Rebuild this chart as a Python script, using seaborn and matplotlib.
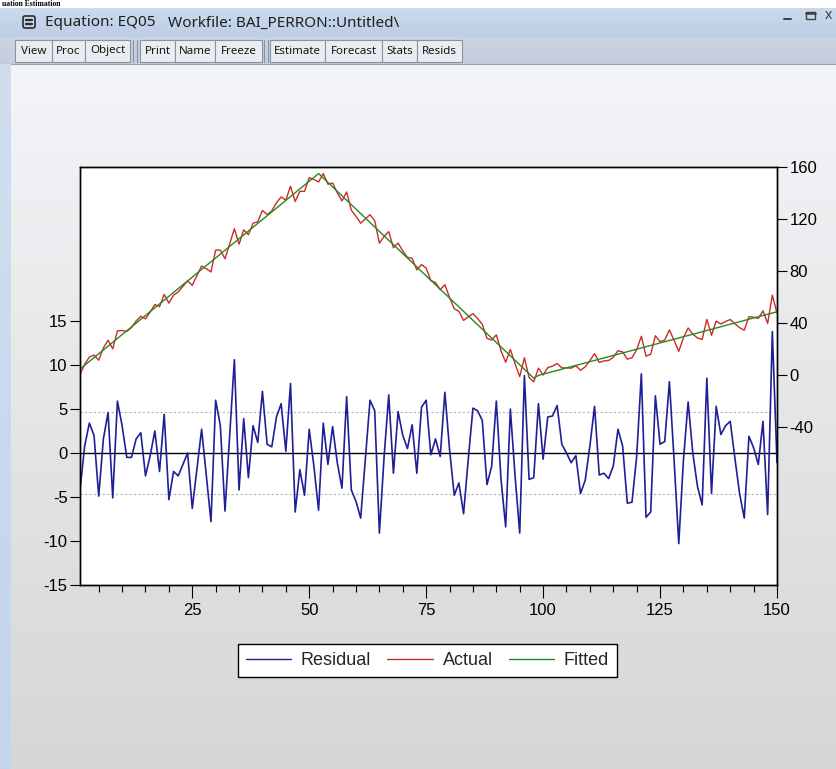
import numpy as np
import pandas as pd
import matplotlib
matplotlib.use("Agg")
import matplotlib.pyplot as plt
import seaborn as sns
from matplotlib.patches import Rectangle, FancyBboxPatch
from matplotlib.lines import Line2D

# ---------------- data ----------------
obs = list(range(1, 151))

residual = [
    -4.2, 0.8, 3.4, 2.0, -4.9, 1.6, 4.6, -5.1, 5.9, 3.1,
    -0.5, -0.5, 1.6, 2.3, -2.6, -0.3, 2.5, -2.1, 4.4, -5.3,
    -2.1, -2.6, -1.3, 0.0, -6.3, -1.8, 2.7, -2.5, -7.8, 6.0,
    3.1, -6.6, 2.0, 10.6, -4.2, 3.9, -2.8, 3.1, 1.2, 7.0,
    1.0, 0.7, 4.1, 5.6, 0.2, 7.9, -6.7, -1.9, -4.8, 2.7,
    -1.5, -6.5, 3.4, -1.3, 3.0, -1.1, -4.0, 6.4, -4.2, -5.5,
    -7.4, -0.7, 6.0, 4.8, -9.1, -0.5, 6.6, -2.3, 4.7, 2.0,
    0.5, 3.2, -2.3, 5.2, 6.0, -0.2, 1.6, -0.4, 6.9, 0.4,
    -4.8, -3.4, -6.9, -0.7, 5.1, 4.8, 3.7, -3.6, -1.5, 5.9,
    -3.0, -8.4, 5.0, -2.6, -9.1, 8.8, -3.0, -2.8, 5.6, -0.7,
    4.1, 4.2, 5.4, 1.0, 0.0, -1.1, -0.3, -4.6, -3.1, 0.8,
    5.3, -2.5, -2.3, -2.9, -1.5, 2.7, 0.8, -5.7, -5.6, -0.4,
    9.0, -7.3, -6.7, 6.5, 1.0, 1.3, 8.1, -0.8, -10.3, -0.8,
    5.8, 0.0, -3.8, -5.9, 8.5, -4.6, 5.3, 2.1, 3.1, 3.6,
    -0.6, -4.6, -7.4, 1.9, 0.6, -1.3, 3.6, -7.0, 13.8, -1.1,
]

fitted = [
    4.5, 7.5, 10.4, 13.4, 16.3, 19.3, 22.2, 25.2, 28.1, 31.1,
    34.0, 37.0, 39.9, 42.9, 45.8, 48.8, 51.7, 54.7, 57.6, 60.6,
    63.5, 66.5, 69.4, 72.4, 75.3, 78.3, 81.2, 84.2, 87.1, 90.1,
    93.0, 96.0, 98.9, 101.9, 104.8, 107.8, 110.7, 113.7, 116.6, 119.6,
    122.5, 125.5, 128.4, 131.4, 134.3, 137.3, 140.2, 143.2, 146.1, 149.1,
    152.0, 155.0, 151.5, 148.1, 144.7, 141.3, 137.9, 134.4, 131.0, 127.6,
    124.2, 120.8, 117.3, 113.9, 110.5, 107.1, 103.7, 100.2, 96.8, 93.4,
    90.0, 86.6, 83.1, 79.7, 76.3, 72.9, 69.5, 66.0, 62.6, 59.2,
    55.8, 52.4, 48.9, 45.5, 42.1, 38.7, 35.3, 31.8, 28.4, 25.0,
    21.6, 18.2, 14.7, 11.3, 7.9, 4.5, 1.1, -2.4, -0.3, 0.7,
    1.6, 2.6, 3.5, 4.5, 5.5, 6.4, 7.4, 8.3, 9.3, 10.3,
    11.2, 12.2, 13.1, 14.1, 15.1, 16.0, 17.0, 17.9, 18.9, 19.9,
    20.8, 21.8, 22.7, 23.7, 24.7, 25.6, 26.6, 27.5, 28.5, 29.5,
    30.4, 31.4, 32.3, 33.3, 34.3, 35.2, 36.2, 37.1, 38.1, 39.1,
    40.0, 41.0, 41.9, 42.9, 43.9, 44.8, 45.8, 46.7, 47.7, 48.7,
]

actual = [
    0.3, 8.3, 13.8, 15.4, 11.4, 20.9, 26.8, 20.1, 34.0, 34.2,
    33.5, 36.5, 41.5, 45.2, 43.2, 48.5, 54.2, 52.6, 62.0, 55.3,
    61.4, 63.9, 68.1, 72.4, 69.0, 76.5, 83.9, 81.7, 79.3, 96.1,
    96.1, 89.4, 100.9, 112.5, 100.6, 111.7, 107.9, 116.8, 117.8, 126.6,
    123.5, 126.2, 132.5, 137.0, 134.5, 145.2, 133.5, 141.3, 141.3, 151.8,
    150.5, 148.5, 154.9, 146.8, 147.7, 140.2, 133.9, 140.8, 126.8, 122.1,
    116.8, 120.1, 123.3, 118.7, 101.4, 106.6, 110.3, 97.9, 101.5, 95.4,
    90.5, 89.8, 80.8, 84.9, 82.3, 72.7, 71.1, 65.6, 69.5, 59.6,
    51.0, 49.0, 42.0, 44.8, 47.2, 43.5, 39.0, 28.2, 26.9, 30.9,
    18.6, 9.8, 19.7, 8.7, -1.2, 13.3, -1.9, -5.2, 5.3, 0.0,
    5.7, 6.8, 8.9, 5.5, 5.5, 5.3, 7.1, 3.7, 6.2, 11.1,
    16.5, 9.7, 10.8, 11.2, 13.6, 18.7, 17.8, 12.2, 13.3, 19.5,
    29.8, 14.5, 16.0, 30.2, 25.7, 26.9, 34.7, 26.7, 18.2, 28.7,
    36.2, 31.4, 28.5, 27.4, 42.8, 30.6, 41.5, 39.2, 41.2, 42.7,
    39.4, 36.4, 34.5, 44.8, 44.5, 43.5, 49.4, 39.7, 61.5, 47.6,
]

sigma_band = 4.7
left_ticks = [-15, -10, -5, 0, 5, 10, 15]
right_ticks = [-40, 0, 40, 80, 120, 160]
x_ticks = [25, 50, 75, 100, 125, 150]
series_names = ["Residual", "Actual", "Fitted"]
toolbar_labels = ["View", "Proc", "Object", "Print", "Name", "Freeze",
                  "Estimate", "Forecast", "Stats", "Resids"]
title_part1 = "Equation: EQ05"
title_part2 = "Workfile: BAI_PERRON::Untitled\\"
clipped_heading = "uation Estimation"

# ---------------- style ----------------
sns.set_theme(style="white")
plt.rcParams['font.family'] = ['Liberation Sans', 'DejaVu Sans']

W, H = 837, 769
fig = plt.figure(figsize=(W / 100, H / 100), dpi=100)

# background / window chrome
bg = fig.add_axes([0, 0, 1, 1])
bg.axis('off')

def vgrad(c_top, c_bot, y0, y1, x0=0, x1=W, z=0):
    g = np.linspace(0, 1, 256)[:, None, None]
    t = np.array(c_top) / 255.0
    b = np.array(c_bot) / 255.0
    img = t + (b - t) * g
    bg.imshow(img, extent=[x0, x1, y1, y0], aspect='auto', zorder=z,
              interpolation='bilinear')

bg.add_patch(Rectangle((0, 0), W, 8, facecolor='white', edgecolor='none', zorder=0))
bg.text(2, 4.2, clipped_heading, fontsize=5.5, fontweight='bold',
        family=['Liberation Serif', 'DejaVu Serif'], color='black',
        va='center', ha='left', zorder=1)
vgrad((203, 218, 238), (188, 206, 229), 8, 37, z=2)
vgrad((203, 212, 225), (196, 206, 220), 37, 64, z=2)
bg.plot([0, W], [64, 64], color='#9aa4b0', lw=0.8, zorder=3)
vgrad((243, 245, 248), (214, 214, 214), 64.5, H, z=2)
vgrad((208, 222, 240), (196, 212, 234), 64.5, H, x0=0, x1=11, z=3)

# title icon
bg.add_patch(FancyBboxPatch((23, 16), 12, 12, boxstyle="round,pad=0,rounding_size=2",
                            facecolor='none', edgecolor='#2b2b2b', lw=1.2, zorder=4))
bg.plot([26, 32], [20, 20], color='#2b2b2b', lw=1.6, zorder=4)
bg.plot([26, 32], [24, 24], color='#2b2b2b', lw=1.6, zorder=4)
title_font = ['Noto Sans', 'DejaVu Sans']
bg.text(45, 23, title_part1, fontsize=11, family=title_font, color='#1e1e1e',
        va='center', ha='left', zorder=4)
bg.text(168, 23, title_part2, fontsize=11, family=title_font, color='#1e1e1e',
        va='center', ha='left', zorder=4)
# window controls
bg.plot([784, 791], [19, 19], color='#404040', lw=1.4, zorder=4)
bg.add_patch(Rectangle((806, 12), 9, 7, facecolor='none', edgecolor='#404040', lw=1.0, zorder=4))
bg.plot([806, 815], [12.5, 12.5], color='#404040', lw=1.8, zorder=4)
bg.text(828, 15.5, "x", fontsize=10, family=title_font, color='#404040',
        va='center', ha='center', zorder=4)

# toolbar buttons (edges; groups separated by double bars)
btn_edges = [15, 52, 85, 130, None, 140, 175, 215, 262, None, 270, 325, 382, 417, 462]
groups = []
cur = []
for e in btn_edges:
    if e is None:
        groups.append(cur)
        cur = []
    else:
        cur.append(e)
groups.append(cur)
li = 0
for g in groups:
    for a, b in zip(g[:-1], g[1:]):
        bg.add_patch(Rectangle((a, 40), b - a, 22, facecolor='#e9edf2',
                               edgecolor='#8793a1', lw=0.8, zorder=4))
        bg.text((a + b) / 2, 51, toolbar_labels[li], fontsize=8.3, family=title_font,
                color='#141414', va='center', ha='center', zorder=5)
        li += 1
for sx in (133, 264):
    bg.plot([sx, sx], [40, 62], color='#8793a1', lw=0.8, zorder=4)
    bg.plot([sx + 4, sx + 4], [40, 62], color='#8793a1', lw=0.8, zorder=4)

bg.set_xlim(0, W)
bg.set_ylim(H, 0)

# ---------------- chart ----------------
c_res = '#1f1f96'
c_act = '#cc2a2a'
c_fit = '#238a23'

df = pd.DataFrame({'obs': obs, 'Residual': residual, 'Actual': actual, 'Fitted': fitted})

ax = fig.add_axes([80 / W, 1 - 585 / H, (777 - 80) / W, (585 - 167) / H])
ax.set_facecolor('white')
ax.axhline(sigma_band, color='#b4b4b4', lw=0.8, ls=(0, (2, 2)), zorder=1)
ax.axhline(-sigma_band, color='#b4b4b4', lw=0.8, ls=(0, (2, 2)), zorder=1)
ax.axhline(0, color='black', lw=1.0, zorder=1)
sns.lineplot(data=df, x='obs', y='Residual', ax=ax, color=c_res, lw=1.2,
             legend=False, zorder=2)
ax2 = ax.twinx()
sns.lineplot(data=df, x='obs', y='Actual', ax=ax2, color=c_act, lw=1.0, legend=False)
sns.lineplot(data=df, x='obs', y='Fitted', ax=ax2, color=c_fit, lw=1.0, legend=False)

ax.set_xlim(1, 150)
ax.set_ylim(-15, 32.5)
ax2.set_ylim(-161.5, 160)
ax.set_xticks(x_ticks)
ax.set_xticks([v for v in range(5, 151, 5) if v not in x_ticks], minor=True)
ax.set_yticks(left_ticks)
ax2.set_yticks(right_ticks)
ax.set_xticklabels([str(v) for v in x_ticks])
ax.set_yticklabels([str(v) for v in left_ticks])
ax2.set_yticklabels([str(v) for v in right_ticks])
for a in (ax, ax2):
    a.set_xlabel('')
    a.set_ylabel('')
    for s in a.spines.values():
        s.set_visible(True)
        s.set_color('black')
        s.set_linewidth(1.0)

ax.tick_params(axis='x', which='major', bottom=True, direction='out', length=9,
               width=0.8, color='black', pad=4, labelsize=12, labelcolor='black')
ax.tick_params(axis='x', which='minor', bottom=True, direction='out', length=5,
               width=0.8, color='black')
ax.tick_params(axis='y', left=True, right=False, direction='out', length=7,
               width=0.8, color='black', pad=2, labelsize=12, labelcolor='black')
ax2.tick_params(axis='y', right=True, left=False, direction='out', length=7,
                width=0.8, color='black', pad=2, labelsize=12, labelcolor='black')

handles = [Line2D([], [], color=c, lw=1.0) for c in (c_res, c_act, c_fit)]
leg = fig.legend(handles, series_names, loc='center',
                 bbox_to_anchor=(427.5 / W, 1 - 660.5 / H), ncol=3,
                 frameon=True, fancybox=False, edgecolor='black', facecolor='white',
                 framealpha=1, fontsize=13, handlelength=2.5, handletextpad=0.55,
                 columnspacing=0.9, borderpad=0.45)
leg.get_frame().set_linewidth(1.0)

fig.savefig('out.png', dpi=100)
